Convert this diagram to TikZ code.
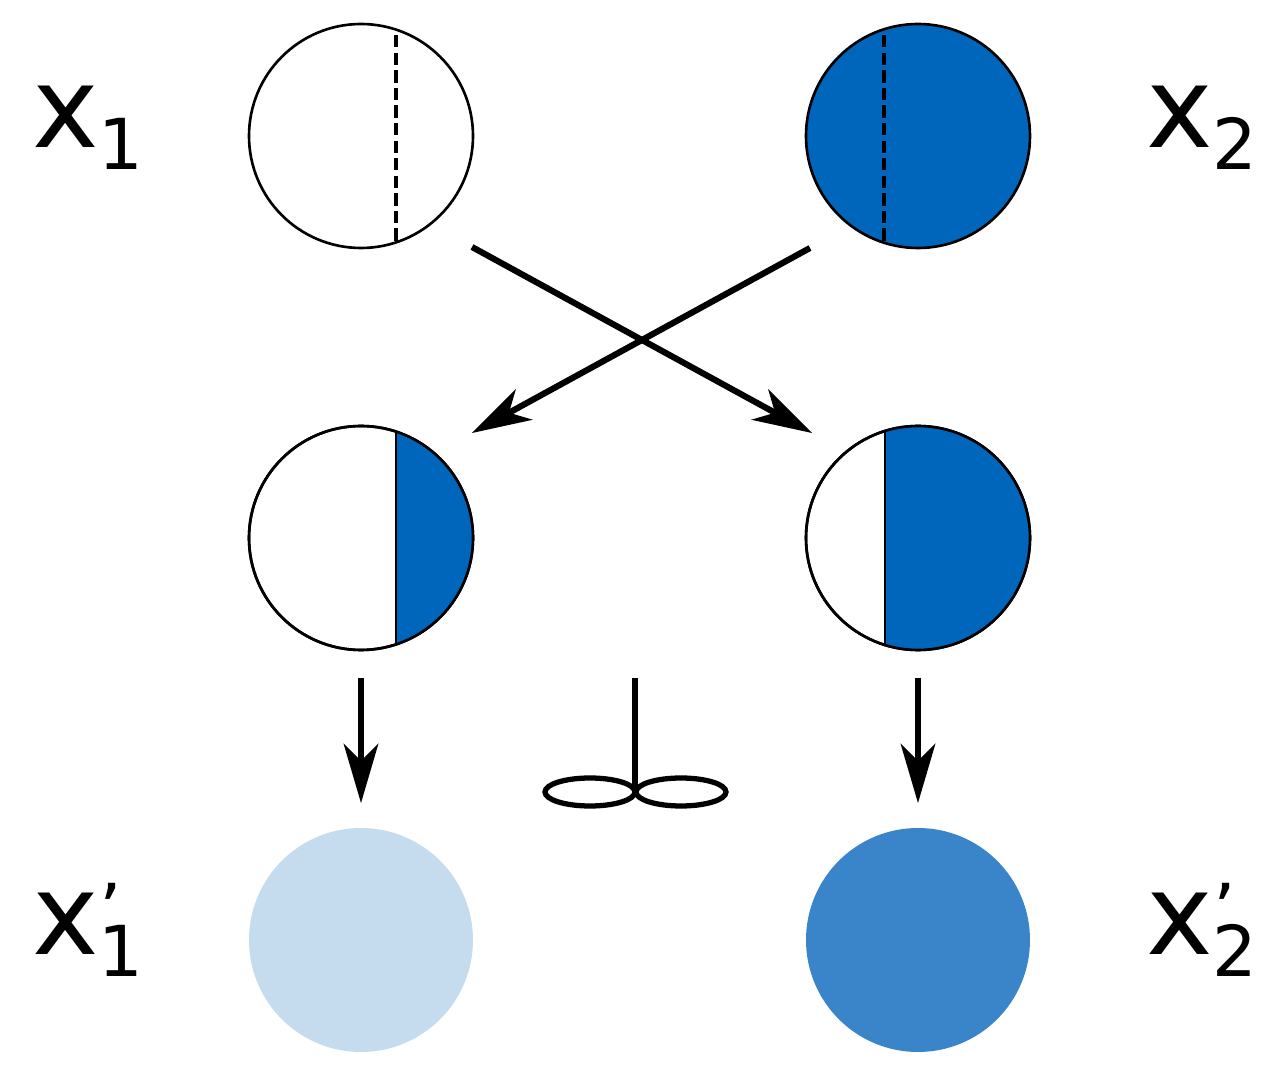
\documentclass[tikz,border=0pt]{standalone}
\usepackage{fontspec}
\setmainfont{DejaVu Sans}
\usetikzlibrary{arrows.meta}
\definecolor{blu}{HTML}{0066BB}
\definecolor{lblu}{HTML}{C5DBEE}
\definecolor{mblu}{HTML}{3A85C9}
\begin{document}
\begin{tikzpicture}[x=0.02cm,y=-0.02cm,
  circ/.style={draw=black,line width=1.5pt},
  arr/.style={line width=3.5pt,-{Stealth[length=34pt,width=20pt,inset=10pt,line width=0pt]}},
  big/.style={font=\fontsize{64}{64}\selectfont,inner sep=0pt,anchor=base west},
  sub/.style={font=\fontsize{40}{40}\selectfont,inner sep=0pt,anchor=base west}]
\useasboundingbox (0,0) rectangle (1276,1077);
\def\R{112}
% top
\draw[circ,fill=white] (361,136) circle (\R);
\begin{scope}\clip (361,136) circle (\R);
\draw[line width=1.8pt,dash pattern=on 7pt off 3pt] (396,0) -- (396,300);\end{scope}
\draw[circ,fill=blu] (918,136) circle (\R);
\begin{scope}\clip (918,136) circle (\R);
\draw[line width=1.8pt,dash pattern=on 7pt off 3pt] (884,0) -- (884,300);\end{scope}
% middle
\draw[circ,fill=white] (361,538) circle (\R);
\begin{scope}\clip (361,538) circle (\R);
\fill[blu] (396,400) rectangle (500,700);
\draw[line width=1.5pt] (396,400) -- (396,700);\end{scope}
\draw[circ] (361,538) circle (\R);
\draw[circ,fill=white] (918,538) circle (\R);
\begin{scope}\clip (918,538) circle (\R);
\fill[blu] (885,400) rectangle (1050,700);
\draw[line width=1.5pt] (885,400) -- (885,700);\end{scope}
\draw[circ] (918,538) circle (\R);
% bottom
\fill[lblu] (361,940) circle (\R);
\fill[mblu] (918,940) circle (\R);
% arrows
\coordinate (s1) at (472,247); \coordinate (e1) at (812,433);
\coordinate (s2) at (810,248); \coordinate (e2) at (472,433);
\draw[arr] (s1) -- (e1);
\draw[arr] (s2) -- (e2);
\coordinate (d1) at (361,678); \coordinate (f1) at (361,803);
\coordinate (d2) at (918,678); \coordinate (f2) at (918,803);
\draw[arr] (d1) -- (f1);
\draw[arr] (d2) -- (f2);
% mixer
\coordinate (m0) at (635,678); \coordinate (m1) at (635,792);
\draw[line width=3.5pt] (m0) -- (m1);
\draw[line width=3pt] (590,792) ellipse (45 and 14);
\draw[line width=3pt] (681,792) ellipse (45 and 14);
% labels
\node[big] (l1) at (32,148) {x};
\node[sub] (l1s) at (98,170) {1};
\node[big] (l2) at (1146,148) {x};
\node[sub] (l2s) at (1212,170) {2};
\node[big] (l3) at (32,955) {x};
\node[sub] (l3s) at (98,977) {1};
\node[sub] (l3p) at (99,935) {'};
\node[big] (l4) at (1146,955) {x};
\node[sub] (l4s) at (1212,977) {2};
\node[sub] (l4p) at (1213,935) {'};
\end{tikzpicture}
\end{document}
